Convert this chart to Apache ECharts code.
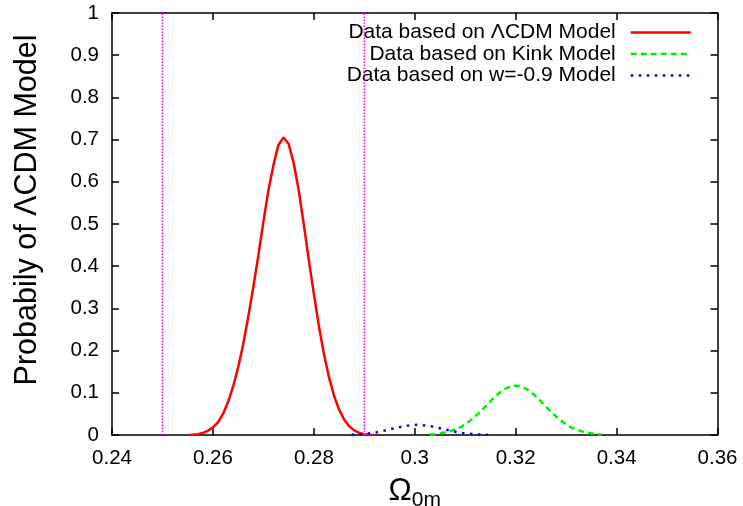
<!DOCTYPE html>
<html>
<head>
<meta charset="utf-8">
<script src="https://cdn.jsdelivr.net/npm/echarts@6/dist/echarts.min.js"></script>
<style>
html,body{margin:0;padding:0;background:#fff;}
#chart{width:743px;height:506px;}
</style>
</head>
<body>
<div id="chart"></div>
<script>
// ---- data ----
const xTicks = [0.24, 0.26, 0.28, 0.30, 0.32, 0.34, 0.36];
const yTicks = [0, 0.1, 0.2, 0.3, 0.4, 0.5, 0.6, 0.7, 0.8, 0.9, 1];
const seriesNames = ['Data based on ΛCDM Model', 'Data based on Kink Model', 'Data based on w=-0.9 Model'];

const lcdmOmega = [0.2555, 0.257, 0.258, 0.259, 0.260, 0.261, 0.262, 0.263, 0.264, 0.265, 0.266, 0.267, 0.268, 0.269, 0.270, 0.271, 0.272, 0.273, 0.274, 0.275, 0.276, 0.277, 0.278, 0.279, 0.280, 0.281, 0.282, 0.283, 0.284, 0.285, 0.286, 0.287, 0.288, 0.289, 0.290, 0.291, 0.292];
const lcdmProb  = [0, 0.002, 0.005, 0.010, 0.018, 0.030, 0.050, 0.078, 0.115, 0.160, 0.215, 0.280, 0.350, 0.425, 0.505, 0.580, 0.640, 0.688, 0.705, 0.690, 0.645, 0.580, 0.500, 0.415, 0.335, 0.258, 0.192, 0.137, 0.093, 0.060, 0.037, 0.021, 0.011, 0.005, 0.002, 0.0005, 0];

const kinkOmega = [0.303, 0.304, 0.305, 0.306, 0.307, 0.308, 0.309, 0.310, 0.311, 0.312, 0.313, 0.314, 0.315, 0.316, 0.317, 0.318, 0.319, 0.320, 0.321, 0.322, 0.323, 0.324, 0.325, 0.326, 0.327, 0.328, 0.329, 0.330, 0.331, 0.332, 0.333, 0.334, 0.335, 0.336, 0.337];
const kinkProb  = [0.001, 0.002, 0.004, 0.006, 0.009, 0.013, 0.018, 0.025, 0.034, 0.044, 0.055, 0.067, 0.080, 0.092, 0.102, 0.110, 0.115, 0.117, 0.115, 0.110, 0.102, 0.092, 0.080, 0.067, 0.055, 0.044, 0.034, 0.025, 0.018, 0.013, 0.009, 0.006, 0.004, 0.002, 0.001];

const wOmega = [0.2875, 0.2885, 0.2895, 0.2905, 0.2915, 0.2925, 0.2935, 0.2945, 0.2955, 0.2965, 0.2975, 0.2985, 0.2995, 0.3005, 0.3015, 0.3025, 0.3035, 0.3045, 0.3055, 0.3065, 0.3075, 0.3085, 0.3095, 0.3105, 0.3115, 0.3125, 0.3135, 0.3145];
const wProb  = [0.0008, 0.0013, 0.0021, 0.0032, 0.0048, 0.0067, 0.0090, 0.0117, 0.0146, 0.0174, 0.0200, 0.0222, 0.0235, 0.0240, 0.0235, 0.0222, 0.0200, 0.0174, 0.0146, 0.0117, 0.0090, 0.0067, 0.0048, 0.0032, 0.0021, 0.0013, 0.0008, 0.0005];

const verticalLines = [0.25, 0.29];

// ---- build chart ----
function pairs(xs, ys) { return xs.map((x, i) => [x, ys[i]]); }

const FONT = 'Liberation Sans';
const chart = echarts.init(document.getElementById('chart'), null, {renderer: 'canvas'});

const mirrorAxisX = {
  type: 'value', min: xTicks[0], max: xTicks[xTicks.length - 1], interval: 0.02,
  axisLine: {show: true, onZero: false, lineStyle: {color: '#000', width: 1.5}},
  axisTick: {show: true, inside: true, length: 7, lineStyle: {color: '#000', width: 1.5}},
  splitLine: {show: false}
};
const mirrorAxisY = {
  type: 'value', min: yTicks[0], max: yTicks[yTicks.length - 1], interval: 0.1,
  axisLine: {show: true, onZero: false, lineStyle: {color: '#000', width: 1.5}},
  axisTick: {show: true, inside: true, length: 7, lineStyle: {color: '#000', width: 1.5}},
  splitLine: {show: false}
};

const series = [
  {name: seriesNames[0], type: 'line', data: pairs(lcdmOmega, lcdmProb), symbol: 'none', smooth: false,
   lineStyle: {color: '#ff0000', width: 2.5, type: 'solid'}, itemStyle: {color: '#ff0000'}, z: 3},
  {name: seriesNames[1], type: 'line', data: pairs(kinkOmega, kinkProb), symbol: 'none', smooth: false,
   lineStyle: {color: '#00ee00', width: 2.5, type: [6, 4]}, itemStyle: {color: '#00ee00'}, z: 3},
  {name: seriesNames[2], type: 'line', data: pairs(wOmega, wProb), symbol: 'none', smooth: false,
   lineStyle: {color: '#0000ff', width: 2.5, type: [2.5, 5.5]}, itemStyle: {color: '#0000ff'}, z: 3}
];
verticalLines.forEach((v, i) => {
  series.push({name: 'vline' + i, type: 'line', data: [[v, yTicks[0]], [v, yTicks[yTicks.length - 1]]],
    symbol: 'none', lineStyle: {color: '#ff00ff', width: 1.5, type: [1.5, 1.5]}, z: 4, silent: true});
});

const option = {
  animation: false,
  backgroundColor: '#fff',
  grid: {left: 112, right: 25.5, top: 13, bottom: 71, containLabel: false, outerBoundsMode: 'none'},
  legend: {
    orient: 'vertical', align: 'right', right: 51, top: 22, padding: 0, itemGap: 0.5,
    itemWidth: 60, itemHeight: 14,
    data: seriesNames,
    textStyle: {fontFamily: FONT, fontSize: 21, color: '#000', lineHeight: 20, padding: [0, 10, 0, 0]},
    lineStyle: {width: 2.5},
    itemStyle: {opacity: 0, borderWidth: 0},
    selectedMode: false
  },
  xAxis: [
    {
      type: 'value', position: 'bottom', min: xTicks[0], max: xTicks[xTicks.length - 1], interval: 0.02,
      name: '{a|Ω}{b|0m}', nameLocation: 'middle', nameGap: 41,
      nameTextStyle: {color: '#000', rich: {
        a: {fontFamily: FONT, fontSize: 31, color: '#000', verticalAlign: 'top'},
        b: {fontFamily: FONT, fontSize: 21, color: '#000', padding: [14, 0, 0, 0], verticalAlign: 'top'}
      }},
      axisLine: {show: true, onZero: false, lineStyle: {color: '#000', width: 1.5}},
      axisTick: {show: true, inside: true, length: 7, lineStyle: {color: '#000', width: 1.5}},
      axisLabel: {color: '#000', fontFamily: FONT, fontSize: 20.5, margin: 13,
        formatter: v => String(+v.toFixed(2))},
      splitLine: {show: false}
    },
    Object.assign({position: 'top', axisLabel: {show: false}}, mirrorAxisX)
  ],
  yAxis: [
    {
      type: 'value', position: 'left', min: yTicks[0], max: yTicks[yTicks.length - 1], interval: 0.1,
      axisLine: {show: true, onZero: false, lineStyle: {color: '#000', width: 1.5}},
      axisTick: {show: true, inside: true, length: 7, lineStyle: {color: '#000', width: 1.5}},
      axisLabel: {color: '#000', fontFamily: FONT, fontSize: 20.5, margin: 13,
        formatter: v => String(+v.toFixed(1))},
      splitLine: {show: false}
    },
    Object.assign({position: 'right', axisLabel: {show: false}}, mirrorAxisY)
  ],
  graphic: [{
    type: 'text', x: 28, y: 210, rotation: Math.PI / 2,
    style: {text: 'Probabily of ΛCDM Model', fontFamily: FONT, fontSize: 30.5, fill: '#000',
      textAlign: 'center', textVerticalAlign: 'middle'}
  }],
  series: series
};
chart.setOption(option);
</script>
</body>
</html>
